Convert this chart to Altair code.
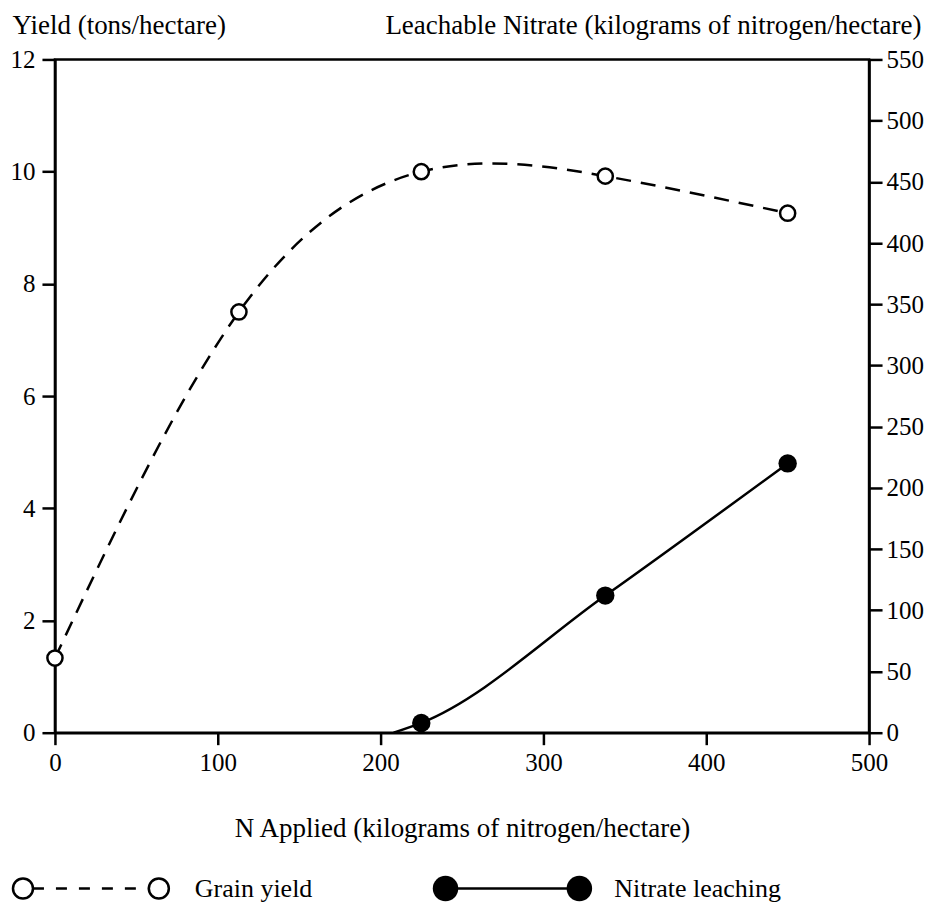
import altair as alt
import pandas as pd

# Data
n_applied = [0, 113, 225, 338, 450]
grain_yield = [1.33, 7.5, 10.0, 9.92, 9.26]

nitrate_n = [225, 338, 450]
nitrate_leach = [8, 112, 220]
nitrate_curve_start_n = 208
nitrate_curve_start_v = 0

x_ticks = [0, 100, 200, 300, 400, 500]
yield_ticks = [0, 2, 4, 6, 8, 10, 12]
nitrate_ticks = [0, 50, 100, 150, 200, 250, 300, 350, 400, 450, 500, 550]

FONT = "'Liberation Serif', 'Times New Roman', Times, 'DejaVu Serif', serif"
W, H = 815, 674

grain_df = pd.DataFrame({"n": n_applied, "yield": grain_yield})
nit_pts = pd.DataFrame({"n": nitrate_n, "v": nitrate_leach})
nit_line = pd.DataFrame({"n": [nitrate_curve_start_n] + nitrate_n,
                         "v": [nitrate_curve_start_v] + nitrate_leach})

xscale = alt.Scale(domain=[0, 500], nice=False, zero=False)
xaxis = alt.Axis(values=x_ticks, title="N Applied (kilograms of nitrogen/hectare)",
                 titleY=96, titleBaseline="middle", labelPadding=6, tickSize=12,
                 titleFontSize=27)

yscale_l = alt.Scale(domain=[0, 12], nice=False)
yaxis_l = alt.Axis(values=yield_ticks, title="Yield (tons/hectare)", titleAngle=0,
                   titleX=-43, titleY=-34, titleAlign="left", titleBaseline="middle",
                   tickSize=13, labelPadding=7, titleFontSize=27)

yscale_r = alt.Scale(domain=[0, 550], nice=False)
yaxis_r = alt.Axis(values=nitrate_ticks, orient="right",
                   title="Leachable Nitrate (kilograms of nitrogen/hectare)", titleAngle=0,
                   titleX=52, titleY=-34, titleAlign="right", titleBaseline="middle",
                   tickSize=13, labelPadding=4, titleFontSize=27)

x_enc = alt.X("n:Q", scale=xscale, axis=xaxis)
yl_enc = alt.Y("yield:Q", scale=yscale_l, axis=yaxis_l)
yr_enc = alt.Y("v:Q", scale=yscale_r, axis=yaxis_r)

grain_line = alt.Chart(grain_df).mark_line(
    color="black", strokeWidth=2.5, strokeDash=[15, 10], interpolate="natural"
).encode(x=x_enc, y=yl_enc)

grain_pts = alt.Chart(grain_df).mark_point(
    shape="circle", filled=True, fill="white", stroke="black", strokeWidth=2.5,
    size=230, opacity=1
).encode(x=x_enc, y=yl_enc)

left = alt.layer(grain_line, grain_pts)

nit_l = alt.Chart(nit_line).mark_line(
    color="black", strokeWidth=2.5, interpolate="monotone"
).encode(x=x_enc, y=yr_enc)

nit_p = alt.Chart(nit_pts).mark_point(
    shape="circle", filled=True, color="black", size=340, opacity=1
).encode(x=x_enc, y=yr_enc)

right = alt.layer(nit_l, nit_p)

# Legend (drawn below the plot)
leg_df = pd.DataFrame({"k": [0]})
LY = 830
leg_dash = alt.Chart(leg_df).mark_rule(color="black", strokeWidth=2.5, strokeDash=[11, 12]).encode(
    x=alt.value(-22), x2=alt.value(94), y=alt.value(LY))
leg_open1 = alt.Chart(leg_df).mark_point(shape="circle", fill="white", filled=True, stroke="black",
                                         strokeWidth=2.5, size=400, opacity=1).encode(
    x=alt.value(-32), y=alt.value(LY))
leg_open2 = alt.Chart(leg_df).mark_point(shape="circle", fill="white", filled=True, stroke="black",
                                         strokeWidth=2.5, size=400, opacity=1).encode(
    x=alt.value(104), y=alt.value(LY))
leg_t1 = alt.Chart(leg_df).mark_text(text="Grain yield", font=FONT, fontSize=26, align="left",
                                     baseline="middle", color="black").encode(
    x=alt.value(140), y=alt.value(LY))
leg_solid = alt.Chart(leg_df).mark_rule(color="black", strokeWidth=2.5).encode(
    x=alt.value(391), x2=alt.value(525), y=alt.value(LY))
leg_f1 = alt.Chart(leg_df).mark_point(shape="circle", filled=True, color="black", size=650,
                                      opacity=1).encode(x=alt.value(391), y=alt.value(LY))
leg_f2 = alt.Chart(leg_df).mark_point(shape="circle", filled=True, color="black", size=650,
                                      opacity=1).encode(x=alt.value(525), y=alt.value(LY))
leg_t2 = alt.Chart(leg_df).mark_text(text="Nitrate leaching", font=FONT, fontSize=26, align="left",
                                     baseline="middle", color="black").encode(
    x=alt.value(560), y=alt.value(LY))

legend = alt.layer(leg_dash, leg_open1, leg_open2, leg_t1, leg_solid, leg_f1, leg_f2, leg_t2)

chart = alt.layer(left, right, legend).resolve_scale(y="independent").properties(
    width=W, height=H,
    autosize=alt.AutoSizeParams(type="none"),
    padding={"left": 47, "top": 51, "right": 55, "bottom": 172},
).configure_view(
    stroke="black", strokeWidth=2.5
).configure_axis(
    domainColor="black", domainWidth=2.5, tickColor="black", tickWidth=2.5,
    labelFont=FONT, labelFontSize=25, labelColor="black",
    titleFont=FONT, titleFontSize=26, titleColor="black", titleFontWeight="normal",
    grid=False, labelFlush=False, labelOverlap=False
).configure_text(font=FONT)

chart.save("out.html", embed_options={"renderer": "svg", "actions": False})
